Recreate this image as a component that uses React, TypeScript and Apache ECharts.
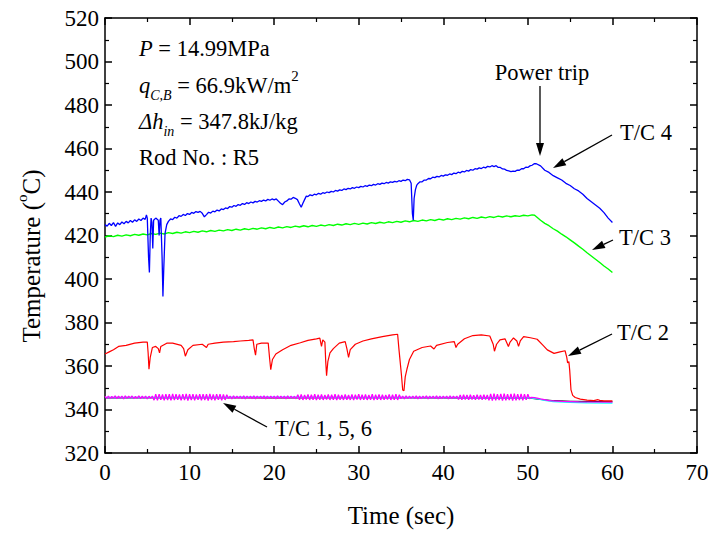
import React, { useEffect, useRef } from "react";
import * as echarts from "echarts";

const X_TICKS = { min: 0, max: 70, interval: 10 };
const Y_TICKS = { min: 320, max: 520, interval: 20 };

// T/C 4 (blue) [time s, temperature °C]
const TC4: number[][] = [
  [0,425],[0.25,424.3],[0.5,425.6],[0.75,424.6],[1,425.9],[1.25,424.2],[1.5,425.8],[1.75,425],[2,426.2],[2.25,425.4],[2.5,426.5],[2.75,425.8],[3,426.9],[3.25,426.1],[3.5,427.2],[3.75,426.5],[4,427.6],[4.25,426.9],[4.5,428],[4.75,427.4],[4.9,429.5],[5.0,428],
  [5.15,410],[5.25,403],[5.35,420],[5.45,428],[5.55,426],[5.65,414],[5.75,427],[6.0,428],[6.3,427],[6.4,420],[6.5,427],[6.6,428],[6.75,410],[6.85,392],[6.95,405],[7.1,421],[7.3,425],
  [7.5,426.5],[7.75,427.6],[8,427.3],[8.25,428.4],[8.5,428],[8.75,429.1],[9,428.8],[9.25,429.7],[9.5,429.2],[9.75,430.1],[10,429.7],[10.25,430.6],[10.5,430.2],[10.75,431],[11,430.6],[11.25,431.1],[11.5,430.2],[11.75,428.6],[12,429.6],[12.25,430.7],[12.5,430.3],[12.75,431.2],[13,430.9],[13.25,431.7],[13.5,431.3],[13.75,432.2],[14,431.9],[14.25,432.7],[14.5,432.4],[14.75,433.3],[15,433],[15.25,433.8],[15.5,433.4],[15.75,434.2],[16,433.9],[16.25,434.7],[16.5,434.3],[16.75,435.1],[17,434.7],[17.25,435.4],[17.5,435],[17.75,435.7],[18,435.4],[18.25,436],[18.5,435.7],[18.75,436.3],[19,435.9],[19.25,436.6],[19.5,436.2],[19.75,436.8],[20,436.4],[20.25,436.8],[20.5,435.8],[20.75,434.8],[21,434.2],[21.25,435.4],[21.5,435.9],[21.75,436.8],[22,436.7],[22.25,437.5],[22.5,437.1],[22.75,436.5],[23,434.5],[23.2,433],[23.4,434.8],[23.6,436.5],[23.8,438.1],[24,437.9],[24.25,438.7],[24.5,438.3],[24.75,439],[25,438.7],[25.25,439.4],[25.5,439],[25.75,439.7],[26,439.4],[26.25,440],[26.5,439.7],[26.75,440.3],[27,440],[27.25,440.7],[27.5,440.4],[27.75,441],[28,440.7],[28.25,441.4],[28.5,441.1],[28.75,441.7],[29,441.4],[29.25,442],[29.5,441.7],[29.75,442.3],[30,442],[30.25,442.6],[30.5,442.3],[30.75,442.9],[31,442.6],[31.25,443.2],[31.5,442.9],[31.75,443.5],[32,443.2],[32.25,443.8],[32.5,443.5],[32.75,444.1],[33,443.8],[33.25,444.4],[33.5,444.1],[33.75,444.7],[34,444.4],[34.25,444.9],[34.5,444.6],[34.75,445.2],[35,444.9],[35.25,445.5],[35.5,445.2],[35.75,445.8],[36,445.6],
  [36.2,444],[36.35,430],[36.45,427],[36.55,437],[36.7,441],[36.85,443],
  [37,443.8],[37.25,444.7],[37.5,444.7],[37.75,445.5],[38,445.5],[38.25,446.2],[38.5,446.1],[38.75,446.8],[39,446.6],[39.25,447.2],[39.5,446.9],[39.75,447.6],[40,447.3],[40.25,447.9],[40.5,447.7],[40.75,448.3],[41,448],[41.25,448.7],[41.5,448.4],[41.75,449.1],[42,448.8],[42.25,449.5],[42.5,449.2],[42.75,449.9],[43,449.6],[43.25,450.3],[43.5,450],[43.75,450.7],[44,450.5],[44.25,451.1],[44.5,450.8],[44.75,451.4],[45,451.1],[45.25,451.8],[45.5,451.5],[45.75,452.1],[46,451.7],[46.25,452.1],[46.5,451.3],[46.75,451.3],[47,450.6],[47.25,450.5],[47.5,449.9],[47.75,449.7],[48,449.4],[48.25,449.6],[48.5,449.5],[48.75,450.1],[49,450],[49.25,450.7],[49.5,450.7],[49.75,451.4],[50,451.3],[50.25,452],[50.5,452.3],[50.75,453],[51,453],
  [51.5,452],[52,450],[52.5,449],[53,447.5],[53.5,446.5],[54,445.5],[54.5,444],[55,443],[55.5,441.5],[56,440.5],[56.5,439],[57,437],[57.5,435.5],[58,434],[58.5,432.5],[59,430.5],[59.5,428],[60,426]
];

// T/C 3 (green)
const TC3: number[][] = [
  [0,419.3],[0.5,419.9],[1,419.5],[1.5,420.1],[2,419.7],[2.5,420.3],[3,419.9],[3.5,420.5],[4,420.1],[4.5,420.7],[5,420.3],[5.5,420.9],[6,420.5],[6.5,421.1],[7,420.7],[7.5,421.3],[8,420.9],[8.5,421.5],[9,421.1],[9.5,421.7],[10,421.3],[10.5,421.9],[11,421.5],[11.5,422.1],[12,421.7],[12.5,422.3],[13,421.9],[13.5,422.5],[14,422.1],[14.5,422.7],[15,422.3],[15.5,422.9],[16,422.5],[16.5,423.1],[17,422.7],[17.5,423.3],[18,422.9],[18.5,423.5],[19,423.1],[19.5,423.7],[20,423.3],[20.5,423.9],[21,423.5],[21.5,424.1],[22,423.7],[22.5,424.3],[23,423.9],[23.5,424.5],[24,424.0],[24.5,424.6],[25,424.2],[25.5,424.8],[26,424.4],[26.5,425.0],[27,424.6],[27.5,425.2],[28,424.8],[28.5,425.4],[29,425.0],[29.5,425.6],[30,425.1],[30.5,425.7],[31,425.3],[31.5,425.9],[32,425.5],[32.5,426.1],[33,425.7],[33.5,426.3],[34,425.9],[34.5,426.5],[35,426.1],[35.5,426.7],[36,426.3],[36.5,426.9],[37,426.5],[37.5,427.1],[38,426.7],[38.5,427.3],[39,426.9],[39.5,427.5],[40,427.1],[40.5,427.7],[41,427.3],[41.5,427.9],[42,427.5],[42.5,428.1],[43,427.7],[43.5,428.3],[44,427.9],[44.5,428.5],[45,428.1],[45.5,428.7],[46,428.3],[46.5,428.9],[47,428.5],[47.5,429.0],[48,428.6],[48.5,429.1],[49,428.8],[49.5,429.3],[50,429.0],[50.5,429.5],[50.8,429.3],
  [51.5,427],[52,425.6],[52.5,424.5],[53,423.1],[53.5,422],[54,420.6],[54.5,419.4],[55,418],[55.5,416.6],[56,415.1],[56.5,413.7],[57,412.1],[57.5,410.6],[58,409.1],[58.5,407.6],[59,406],[59.5,404.6],[60,403]
];

// T/C 2 (red)
const TC2: number[][] = [
  [0,365.5],[0.5,366.5],[1,367.5],[1.6,369],[2.5,369.5],[3.5,370.5],[4.5,371],[5.0,371],[5.1,366],[5.2,358.5],[5.35,364],[5.6,368.5],[6.0,369],[6.3,368],[6.45,366],[6.6,369],[7.3,370.5],[8,370.5],[9,369.5],[9.3,368],[9.5,364.5],[9.8,367.5],[10.4,369.5],[11.5,370],[12,368.5],[12.2,370],[13,370.5],[14,371],[15.2,371.2],[16,371.5],[17,371.8],[17.5,372],[17.65,368],[17.8,365],[17.95,370],[18.5,370.5],[19.3,370.5],[19.45,364],[19.6,358.3],[19.8,363],[20.2,365.5],[21,367.5],[22,369.5],[23.1,370.7],[24,371.8],[25,372.5],[25.4,372.8],[25.6,369],[25.75,372],[26,371],[26.1,362],[26.2,355.5],[26.35,362],[26.6,366],[27,368],[27.7,370.5],[28.4,371.2],[28.6,368],[28.8,364],[29,367.5],[29.6,370],[30.5,371.5],[31.5,372.5],[32.8,373.5],[34,374.3],[34.6,374.6],[34.75,368],[34.9,362],[35.05,356],[35.2,349],[35.35,348.6],[35.5,355],[35.7,358.5],[36,363],[36.5,366.8],[37.5,368.5],[38.5,369.2],[38.9,367.8],[39.2,369.5],[40.5,370.8],[41.3,371.2],[41.5,368.5],[41.7,370],[42.5,372.5],[43.5,374],[44.5,374.3],[45.5,373.8],[45.9,370],[46.05,366.8],[46.3,370],[46.7,372],[47.3,372.5],[47.7,369],[47.9,371],[48.3,372.9],[48.7,371.5],[48.9,369],[49.1,371.5],[49.5,373.5],[50.3,373],[51.1,372.3],[51.8,369.5],[52.3,367.4],[53.1,365.8],[53.8,366.5],[54.4,367],[54.6,364],[54.7,361.4],[54.85,362],[54.95,358],[55.1,349],[55.3,346.5],[55.6,345.5],[56.2,344.8],[57,344.3],[57.8,344.1],[58.3,344.5],[58.5,344.2],[59,344],[60,344]
];

// T/C 1 (black) and T/C 5 (cyan)
const TC1: number[][] = [[0,345.3],[10,345.4],[20,345.3],[30,345.4],[40,345.3],[50,345.3],[51.5,344.6],[53,344.1],[55,343.8],[60,343.6]];
const TC5: number[][] = [[0,345.5],[10,345.5],[20,345.6],[30,345.5],[40,345.5],[50,345.4],[51,345],[52,344.2],[53,343.7],[55,343.3],[57,343.1],[60,343]];

// T/C 6 (magenta), sampled every 0.2 s from t = 0 to 50.4 s, then a tail
const TC6_STEP = 0.2;
const TC6_VALUES: number[] = [
  346.1,345.1,346.2,345.0,346.0,345.2,346.3,345.0,346.1,345.1,346.2,344.9,346.3,345.1,346.1,345.2,346.2,345.0,346.0,345.1,346.3,345.0,346.1,345.1,346.2,344.9,346.1,345.1,346.2,
  344.3,347.0,344.2,347.1,344.4,346.9,344.2,347.1,344.3,347.0,344.2,347.2,344.3,347.0,344.4,346.9,344.2,347.1,344.3,347.2,344.1,347.0,344.3,347.1,344.2,346.9,344.4,347.0,344.2,347.1,344.3,347.0,344.1,347.2,344.3,346.9,344.2,347.1,344.4,347.0,344.2,346.9,344.4,346.8,
  345.0,346.2,344.9,346.3,345.0,346.1,345.1,346.2,345.0,346.3,344.9,346.2,345.1,346.1,345.0,346.3,344.9,346.2,345.1,346.1,345.0,346.3,344.9,346.2,345.0,346.1,345.1,346.2,344.9,346.3,345.0,346.1,345.1,346.2,344.9,346.3,345.0,346.2,345.1,346.1,344.9,
  346.8,344.5,346.9,344.4,346.7,344.6,346.9,344.4,346.8,344.5,347.0,344.3,346.8,344.5,346.9,344.4,346.7,344.6,346.9,344.4,346.8,344.5,347.0,344.3,346.8,344.5,346.7,344.4,346.9,344.5,346.7,344.4,346.9,344.3,346.8,344.6,347.0,344.4,346.8,344.5,346.9,344.4,346.7,344.5,347.0,344.3,346.8,344.5,346.9,344.4,346.8,344.5,346.7,344.6,346.9,344.4,346.8,344.5,347.0,344.4,346.8,
  345.0,346.2,344.9,346.3,345.0,346.1,345.1,346.2,345.0,346.3,344.9,346.2,345.0,346.1,345.1,346.3,344.9,346.2,345.1,346.1,345.0,346.3,344.9,346.2,345.0,346.1,345.1,346.2,344.9,346.3,345.0,346.1,345.1,346.2,
  344.6,346.7,344.5,346.8,344.6,346.7,344.5,346.8,344.6,346.6,344.5,346.8,344.6,346.7,344.5,346.8,344.6,346.7,
  344.2,347.2,344.1,347.3,344.2,347.1,344.3,347.2,344.1,347.3,344.2,347.1,344.3,347.2,344.1,347.3,344.2,347.1,344.3,347.2,344.2,347.1,344.4,347.0,344.9,345.6
];
const TC6_TAIL: number[][] = [[50.8,345.5],[51.5,344.9],[52.5,344.1],[54,343.7],[56,343.5],[60,343.4]];

const FONT = "Liberation Serif";
const TICK_FS = 23;
const NAME_FS = 25;
const NOTE_FS = 22.5;

export default function App() {
  const ref = useRef<HTMLDivElement>(null);
  useEffect(() => {
    if (!ref.current) return;
    const chart = echarts.init(ref.current, undefined, { renderer: "svg" });

    const tc6 = TC6_VALUES.map((v, i) => [Math.round(i * TC6_STEP * 100) / 100, v]).concat(TC6_TAIL);

    const arrow = (x1: number, y1: number, x2: number, y2: number) => {
      const dx = x2 - x1, dy = y2 - y1, L = Math.hypot(dx, dy);
      const ux = dx / L, uy = dy / L;
      const len = 13, w = 4;
      const bx = x2 - ux * len, by = y2 - uy * len;
      return [
        { type: "line", shape: { x1, y1, x2: bx, y2: by }, style: { stroke: "#000", lineWidth: 1.3 }, z: 100 },
        { type: "polygon", shape: { points: [[x2, y2], [bx - uy * w, by + ux * w], [bx + uy * w, by - ux * w]] }, style: { fill: "#000" }, z: 100 },
      ];
    };

    const txt = (x: number, y: number, text: string, extra: any = {}) => ({
      type: "text", x, y, z: 100,
      style: { text, fontFamily: FONT, fontSize: NOTE_FS, fill: "#000", verticalAlign: "middle", ...extra },
    });

    const mkRich = (fs: number) => ({
      n: { fontSize: fs, fontFamily: FONT, lineHeight: 34, color: "#000" },
      i: { fontSize: fs, fontFamily: FONT, fontStyle: "italic", lineHeight: 34, color: "#000" },
      sub: { fontSize: 14, fontFamily: FONT, fontStyle: "italic", lineHeight: 14, verticalAlign: "bottom", color: "#000" },
      sup: { fontSize: 15, fontFamily: FONT, lineHeight: 24, verticalAlign: "top", color: "#000" },
    });
    const rich = mkRich(NOTE_FS);
    const richName = mkRich(NAME_FS);

    const graphic: any[] = [
      { type: "text", x: 139, y: 48, z: 100, style: { text: "{i|P}{n| = 14.99MPa}", rich, verticalAlign: "middle" } },
      { type: "text", x: 139, y: 85, z: 100, style: { text: "{i|q}{sub|C,B}{n| = 66.9kW/m}{sup|2}", rich, verticalAlign: "middle" } },
      { type: "text", x: 139, y: 121, z: 100, style: { text: "{i|Δh}{sub|in}{n| = 347.8kJ/kg}", rich, verticalAlign: "middle" } },
      { type: "text", x: 139, y: 157, z: 100, style: { text: "{n|Rod No. : R5}", rich, verticalAlign: "middle" } },
      { type: "text", x: 31, y: 256, rotation: Math.PI / 2, z: 100,
        style: { text: "{n|Temperature (}{sup|o}{n|C)}", rich: richName, align: "center", verticalAlign: "middle" } },
      txt(542, 72, "Power trip", { align: "center" }),
      ...arrow(540, 86, 540, 156),
      txt(620, 132, "T/C 4"),
      ...arrow(612, 135, 553, 168),
      txt(619, 237, "T/C 3"),
      ...arrow(613, 240, 592, 250),
      txt(617, 332, "T/C 2"),
      ...arrow(612, 334, 568, 356),
      txt(275, 428, "T/C 1, 5, 6"),
      ...arrow(267, 427, 223, 403),
    ];

    const lineS = (name: string, data: number[][], color: string, width = 1.2) => ({
      name, type: "line", data, showSymbol: false, symbol: "none",
      lineStyle: { color, width }, itemStyle: { color }, silent: true,
    });

    const axisCommon = {
      type: "value",
      axisLine: { show: true, onZero: false, lineStyle: { color: "#000", width: 1.5 } },
      axisTick: { show: true, inside: true, length: 7, lineStyle: { color: "#000", width: 1.5 } },
      minorTick: { show: true, splitNumber: 2, length: 4, lineStyle: { color: "#000", width: 1.2 } },
      splitLine: { show: false },
    };

    chart.setOption({
      animation: false,
      backgroundColor: "#fff",
      grid: { left: 105, right: 18, top: 18, bottom: 84 },
      xAxis: [
        { ...axisCommon, ...X_TICKS, position: "bottom",
          name: "Time (sec)", nameLocation: "middle", nameGap: 50,
          nameTextStyle: { fontFamily: FONT, fontSize: NAME_FS, color: "#000" },
          axisLabel: { fontFamily: FONT, fontSize: TICK_FS, color: "#000", margin: 8 } },
        { ...axisCommon, ...X_TICKS, position: "top", axisLabel: { show: false } },
      ],
      yAxis: [
        { ...axisCommon, ...Y_TICKS, position: "left",
          axisLabel: { fontFamily: FONT, fontSize: TICK_FS, color: "#000", margin: 6 } },
        { ...axisCommon, ...Y_TICKS, position: "right", axisLabel: { show: false } },
      ],
      series: [
        lineS("T/C 1", TC1, "#000000", 1),
        lineS("T/C 5", TC5, "#00ffff", 1.5),
        lineS("T/C 6", tc6, "#ff00ff", 1.3),
        lineS("T/C 2", TC2, "#ff0000"),
        lineS("T/C 3", TC3, "#00ff00", 1.4),
        lineS("T/C 4", TC4, "#0000ff", 1.3),
      ],
      graphic,
    });
    return () => chart.dispose();
  }, []);
  return <div ref={ref} style={{ position: "fixed", left: 0, top: 0, width: 715, height: 537 }} />;
}
